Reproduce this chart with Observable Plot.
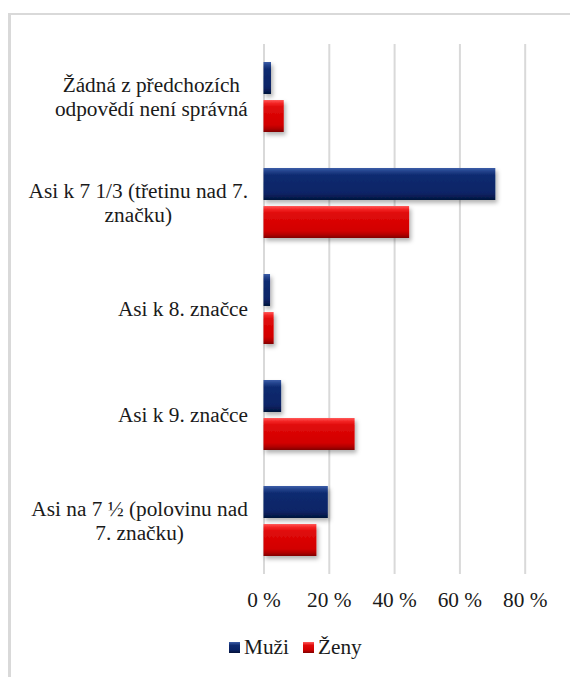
<!DOCTYPE html>
<html>
<head>
<meta charset="utf-8">
<script src="https://cdn.jsdelivr.net/npm/d3@7"></script>
<script src="https://cdn.jsdelivr.net/npm/@observablehq/plot@0.6"></script>
<style>
  html, body { margin: 0; padding: 0; background: #fff; }
  #wrap { position: relative; width: 570px; height: 677px; overflow: hidden;
          font-family: "Liberation Serif", "Times New Roman", serif; }
  #frame { position: absolute; left: 8px; top: 13px; width: 700px; height: 800px;
           border-left: 3px solid #d9d9d9; border-top: 2px solid #d9d9d9; }
  #chart { position: absolute; left: 0; top: 0; }
  #chart svg, #chart svg text { font-family: "Liberation Serif", "Times New Roman", serif !important; }
  #legend { position: absolute; top: 635px; left: 229px; font-size: 21.3px; color: #1a1a1a; display: flex; align-items: center; white-space: nowrap; }
  .sw { display: inline-block; width: 11px; height: 11px; margin-right: 4px; }
  .item { display: inline-flex; align-items: center; margin-right: 14px; }
</style>
</head>
<body>
<div id="wrap">
  <div id="frame"></div>
  <div id="chart"></div>
  <div id="legend"></div>
</div>
<script>
const categories = [
  "Žádná z předchozích odpovědí není správná",
  "Asi k 7 1/3 (třetinu nad 7. značku)",
  "Asi k 8. značce",
  "Asi k 9. značce",
  "Asi na 7 ½ (polovinu nad 7. značku)"
];
const categoryLabels = [
  "Žádná z předchozích\nodpovědí není správná",
  "Asi k 7 1/3 (třetinu nad 7.\nznačku)",
  "Asi k 8. značce",
  "Asi k 9. značce",
  "Asi na 7 ½ (polovinu nad\n7. značku)"
];
const series = ["Muži", "Ženy"];
const muzi = [2.3, 71, 2, 5.4, 19.7];
const zeny = [6.2, 44.6, 3.1, 27.9, 16.2];
const xTicks = [0, 20, 40, 60, 80];

const rows = categories.flatMap((c, i) => [
  {category: c, series: series[0], value: muzi[i]},
  {category: c, series: series[1], value: zeny[i]}
]);

const chart = Plot.plot({
  width: 570,
  height: 620,
  marginTop: 43,
  marginBottom: 45,
  marginLeft: 263.5,
  marginRight: 45.3,
  style: {fontSize: "21.3px", color: "#1a1a1a", background: "transparent"},
  x: {domain: [0, 80]},
  y: {domain: series, paddingInner: 0.17, paddingOuter: 0.465, axis: null},
  fy: {domain: categories, padding: 0, label: null},
  color: {domain: series, range: ["url(#gMuzi)", "url(#gZeny)"]},
  marks: [
    Plot.ruleX(xTicks, {stroke: "#d9d9d9", strokeWidth: 2}),
    Plot.barX(rows, {x: "value", y: "series", fy: "category", fill: "series"}),
    Plot.axisX({ticks: xTicks, tickFormat: d => d + " %", tickSize: 0, tickPadding: 17, label: null}),
    Plot.axisFy({anchor: "left", tickSize: 0, tickPadding: 16, label: null, lineHeight: 1.15, dy: -1.5,
                 tickFormat: c => categoryLabels[categories.indexOf(c)]})
  ]
});
chart.removeAttribute("font-family");
document.getElementById("chart").appendChild(chart);

const svg = d3.select(chart);
const defs = svg.insert("defs", ":first-child");
function grad(id, stops) {
  const g = defs.append("linearGradient").attr("id", id)
    .attr("x1", 0).attr("y1", 0).attr("x2", 0).attr("y2", 1);
  stops.forEach(([o, c]) => g.append("stop").attr("offset", o).attr("stop-color", c));
}
grad("gMuzi", [[0, "#3d5ea8"], [0.1, "#22428c"], [0.22, "#0f2b70"], [0.78, "#0a2466"], [0.9, "#071c52"], [1, "#04123a"]]);
grad("gZeny", [[0, "#ff5a5a"], [0.1, "#f42424"], [0.22, "#e00a0a"], [0.78, "#d20000"], [0.9, "#b00000"], [1, "#800000"]]);
const f = defs.append("filter").attr("id", "shadow").attr("x", "-10%").attr("y", "-20%").attr("width", "130%").attr("height", "160%");
f.append("feDropShadow").attr("dx", 2).attr("dy", 3).attr("stdDeviation", 2)
  .attr("flood-color", "#000").attr("flood-opacity", 0.3);
svg.selectAll('g[aria-label="bar"]').attr("filter", "url(#shadow)");

// centre the lines of each wrapped label inside its right-aligned block
svg.selectAll('g[aria-label="fy-axis tick label"] text').each(function() {
  const w = this.getBBox().width;
  this.setAttribute("text-anchor", "middle");
  const tspans = this.querySelectorAll("tspan");
  if (tspans.length) {
    tspans.forEach(t => t.setAttribute("x", -w / 2));
  } else {
    const x0 = parseFloat(this.getAttribute("x")) || 0;
    this.setAttribute("x", x0 - w / 2);
  }
});

const swatches = {"Muži": "linear-gradient(#3d5ea8, #0f2b70 30%, #0a2466 70%, #04123a)",
                  "Ženy": "linear-gradient(#ff5a5a, #e00a0a 30%, #d20000 70%, #800000)"};
const legend = d3.select("#legend");
series.forEach(s => {
  const it = legend.append("span").attr("class", "item");
  it.append("span").attr("class", "sw").style("background", swatches[s]);
  it.append("span").text(s);
});
</script>
</body>
</html>
